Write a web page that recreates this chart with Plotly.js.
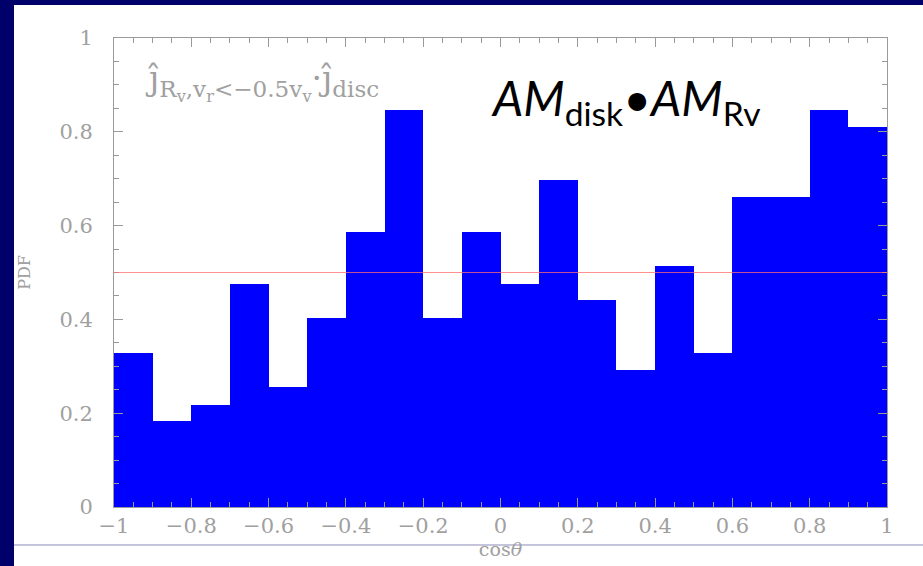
<!DOCTYPE html>
<html>
<head>
<meta charset="utf-8">
<script src="https://cdn.plot.ly/plotly-3.0.1.min.js"></script>
<style>
html,body{margin:0;padding:0;background:#ffffff;width:923px;height:566px;overflow:hidden;}
#chart{position:absolute;left:14px;top:5px;width:915px;height:565px;}
#frameL{position:absolute;left:0;top:0;width:14px;height:566px;background:#00006b;}
#frameT{position:absolute;left:0;top:0;width:923px;height:5px;background:#00006b;}
</style>
</head>
<body>
<div id="chart"></div>
<div id="frameL"></div>
<div id="frameT"></div>
<script>
// Bin centres of cos(theta) histogram (width 0.1)
var binCenters = [-0.95,-0.85,-0.75,-0.65,-0.55,-0.45,-0.35,-0.25,-0.15,-0.05,
                   0.05, 0.15, 0.25, 0.35, 0.45, 0.55, 0.65, 0.75, 0.85, 0.95];
var pdfValues  = [0.328,0.183,0.217,0.475,0.256,0.403,0.586,0.846,0.403,0.586,
                  0.475,0.697,0.441,0.292,0.514,0.328,0.661,0.661,0.846,0.810];
var binWidth = 0.1;
var uniformLevel = 0.5;
var xTickVals = [-1,-0.8,-0.6,-0.4,-0.2,0,0.2,0.4,0.6,0.8,1];
var yTickVals = [0,0.2,0.4,0.6,0.8,1];

var serif = '"DejaVu Serif","Liberation Serif",serif';
var grey = '#a0a0a0';
var tickFont = {family:serif, size:21, color:grey};
var axisCommon = {
  showgrid:false, zeroline:false, showline:true, linecolor:'#9a9a9a', linewidth:1,
  mirror:'allticks', ticks:'inside', ticklen:9, tickcolor:'#9a9a9a', tickwidth:1,
  tickfont:tickFont, fixedrange:true
};

var trace = {
  type:'bar', x:binCenters, y:pdfValues, width:binWidth,
  marker:{color:'#0000ff', line:{width:0}}, hoverinfo:'skip'
};

var layout = {
  width:915, height:565,
  margin:{l:100, r:42, t:33, b:63},
  paper_bgcolor:'#ffffff', plot_bgcolor:'#ffffff',
  showlegend:false, bargap:0,
  xaxis: Object.assign({}, axisCommon, {
    range:[-1,1], tickmode:'array', tickvals:xTickVals, ticklabelstandoff:0,
    minor:{dtick:0.05, ticks:'inside', ticklen:5, tickcolor:'#9a9a9a'},
    title:{text:'cos<i>θ</i>', font:{family:serif, size:19, color:grey}, standoff:2}
  }),
  yaxis: Object.assign({}, axisCommon, {
    range:[0,1], tickmode:'array', tickvals:yTickVals, ticklabelstandoff:16,
    minor:{dtick:0.05, ticks:'inside', ticklen:5, tickcolor:'#9a9a9a'},
    title:{text:'PDF', font:{family:serif, size:16, color:grey}, standoff:24}
  }),
  shapes:[
    {type:'line', xref:'paper', yref:'y', x0:0, x1:1, y0:uniformLevel, y1:uniformLevel,
     line:{color:'rgba(255,110,110,0.75)', width:1}, layer:'above'},
    {type:'line', xref:'paper', yref:'paper', x0:-0.13, x1:1.06, y0:-0.081, y1:-0.081,
     line:{color:'#8a8ab8', width:1}, layer:'above'}
  ],
  annotations:[
    {xref:'x', yref:'y', x:-0.925, y:0.906, xanchor:'left', yanchor:'middle', showarrow:false,
     text:'ĵ<sub>R<sub>v</sub>,v<sub>r</sub><−0.5v<sub>v</sub></sub>·ĵ<sub>disc</sub>',
     font:{family:serif, size:33, color:grey}},
    {xref:'x', yref:'y', x:-0.03, y:0.865, xanchor:'left', yanchor:'middle', showarrow:false,
     text:'<i>AM</i><sub>disk</sub>•<i>AM</i><sub>Rv</sub>',
     font:{family:'"Comic Sans MS","Lato","Open Sans",sans-serif', size:48, color:'#000000'}}
  ]
};

Plotly.newPlot('chart', [trace], layout, {displayModeBar:false, staticPlot:true});
</script>
</body>
</html>
